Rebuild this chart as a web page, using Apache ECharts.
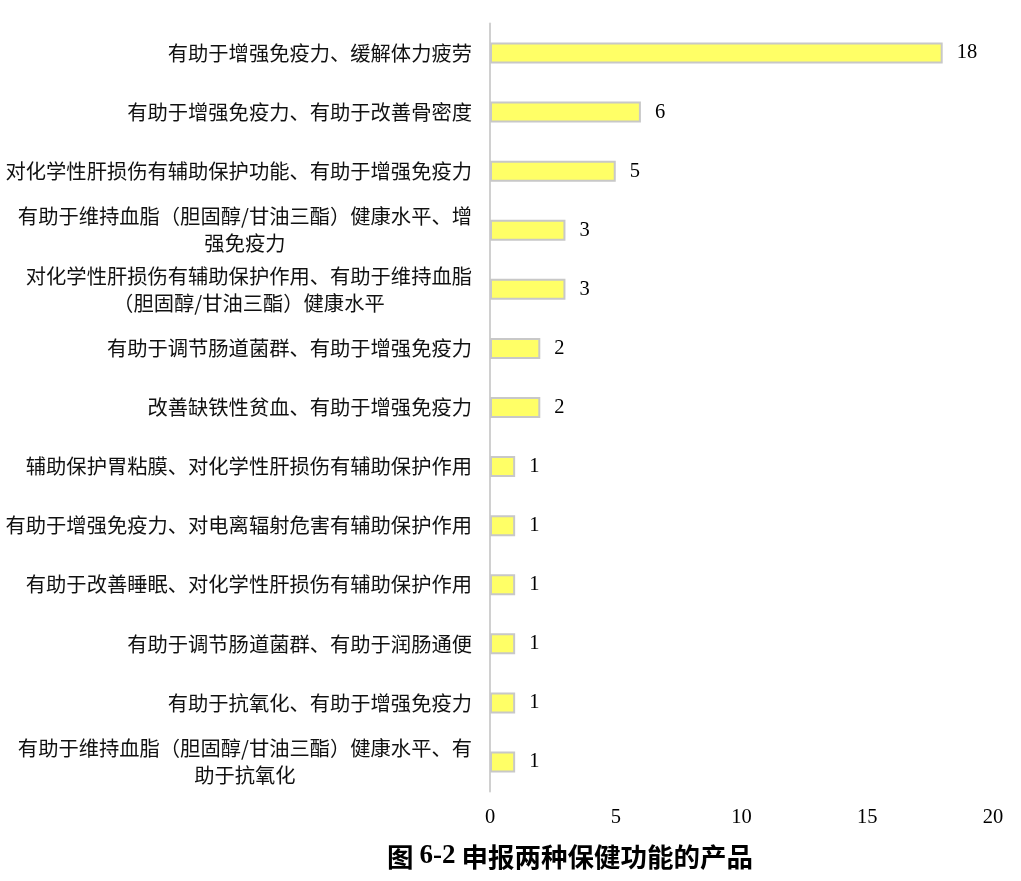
<!DOCTYPE html>
<html>
<head>
<meta charset="utf-8">
<script src="https://cdn.jsdelivr.net/npm/echarts@6/dist/echarts.min.js"></script>
<style>
  html, body { margin: 0; padding: 0; background: #fff; }
  #chart { width: 1021px; height: 881px; }
</style>
</head>
<body>
<div id="chart"></div>
<script>
// 功能组合（从上到下）
const categories = [
  '有助于增强免疫力、缓解体力疲劳',
  '有助于增强免疫力、有助于改善骨密度',
  '对化学性肝损伤有辅助保护功能、有助于增强免疫力',
  '有助于维持血脂（胆固醇/甘油三酯）健康水平、增\n强免疫力',
  '对化学性肝损伤有辅助保护作用、有助于维持血脂\n（胆固醇/甘油三酯）健康水平',
  '有助于调节肠道菌群、有助于增强免疫力',
  '改善缺铁性贫血、有助于增强免疫力',
  '辅助保护胃粘膜、对化学性肝损伤有辅助保护作用',
  '有助于增强免疫力、对电离辐射危害有辅助保护作用',
  '有助于改善睡眠、对化学性肝损伤有辅助保护作用',
  '有助于调节肠道菌群、有助于润肠通便',
  '有助于抗氧化、有助于增强免疫力',
  '有助于维持血脂（胆固醇/甘油三酯）健康水平、有\n助于抗氧化'
];

// 产品数量
const counts = [18, 6, 5, 3, 3, 2, 2, 1, 1, 1, 1, 1, 1];

// x轴刻度
const xTicks = [0, 5, 10, 15, 20];

const cjk = '"Noto Sans CJK SC", sans-serif';
const serif = '"Liberation Serif", "Noto Sans CJK SC", serif';

let chart = echarts.init(document.getElementById('chart'));

let option = {
  backgroundColor: '#ffffff',
  animation: false,
  title: {
    text: '{a|图 }{b|6-2}{a| 申报两种保健功能的产品}',
    left: 382,
    top: 838,
    textStyle: {
      rich: {
        a: { fontFamily: cjk, fontSize: 26.5, fontWeight: 'bold', color: '#000' },
        b: { fontFamily: serif, fontSize: 27, fontWeight: 'bold', color: '#000' }
      }
    }
  },
  grid: {
    left: 490,
    right: 28,
    top: 23.5,
    bottom: 89.5,
    containLabel: false
  },
  xAxis: {
    type: 'value',
    min: xTicks[0],
    max: xTicks[xTicks.length - 1],
    interval: xTicks[1] - xTicks[0],
    axisLine: { show: false },
    axisTick: { show: false },
    splitLine: { show: false },
    axisLabel: {
      margin: 16,
      fontFamily: serif,
      fontSize: 20.5,
      color: '#000'
    }
  },
  yAxis: {
    type: 'category',
    inverse: true,
    data: categories,
    axisLine: { show: true, lineStyle: { color: '#d0d0d0', width: 2 } },
    axisTick: { show: false },
    axisLabel: {
      margin: 18,
      interval: 0,
      formatter: function (v) {
        // 每行居中
        return v.split('\n').map(function (l) { return '{c|' + l + '}'; }).join('\n');
      },
      rich: {
        c: {
          align: 'center',
          fontFamily: cjk,
          fontSize: 20.3,
          lineHeight: 27,
          color: '#111'
        }
      }
    }
  },
  series: [{
    type: 'bar',
    data: counts,
    barWidth: 21,
    itemStyle: {
      color: '#ffff66',
      borderColor: '#c8c8c8',
      borderWidth: 2
    },
    label: {
      show: true,
      position: 'right',
      distance: 14,
      fontFamily: serif,
      fontSize: 20.5,
      color: '#000'
    }
  }]
};

chart.setOption(option);
</script>
</body>
</html>
